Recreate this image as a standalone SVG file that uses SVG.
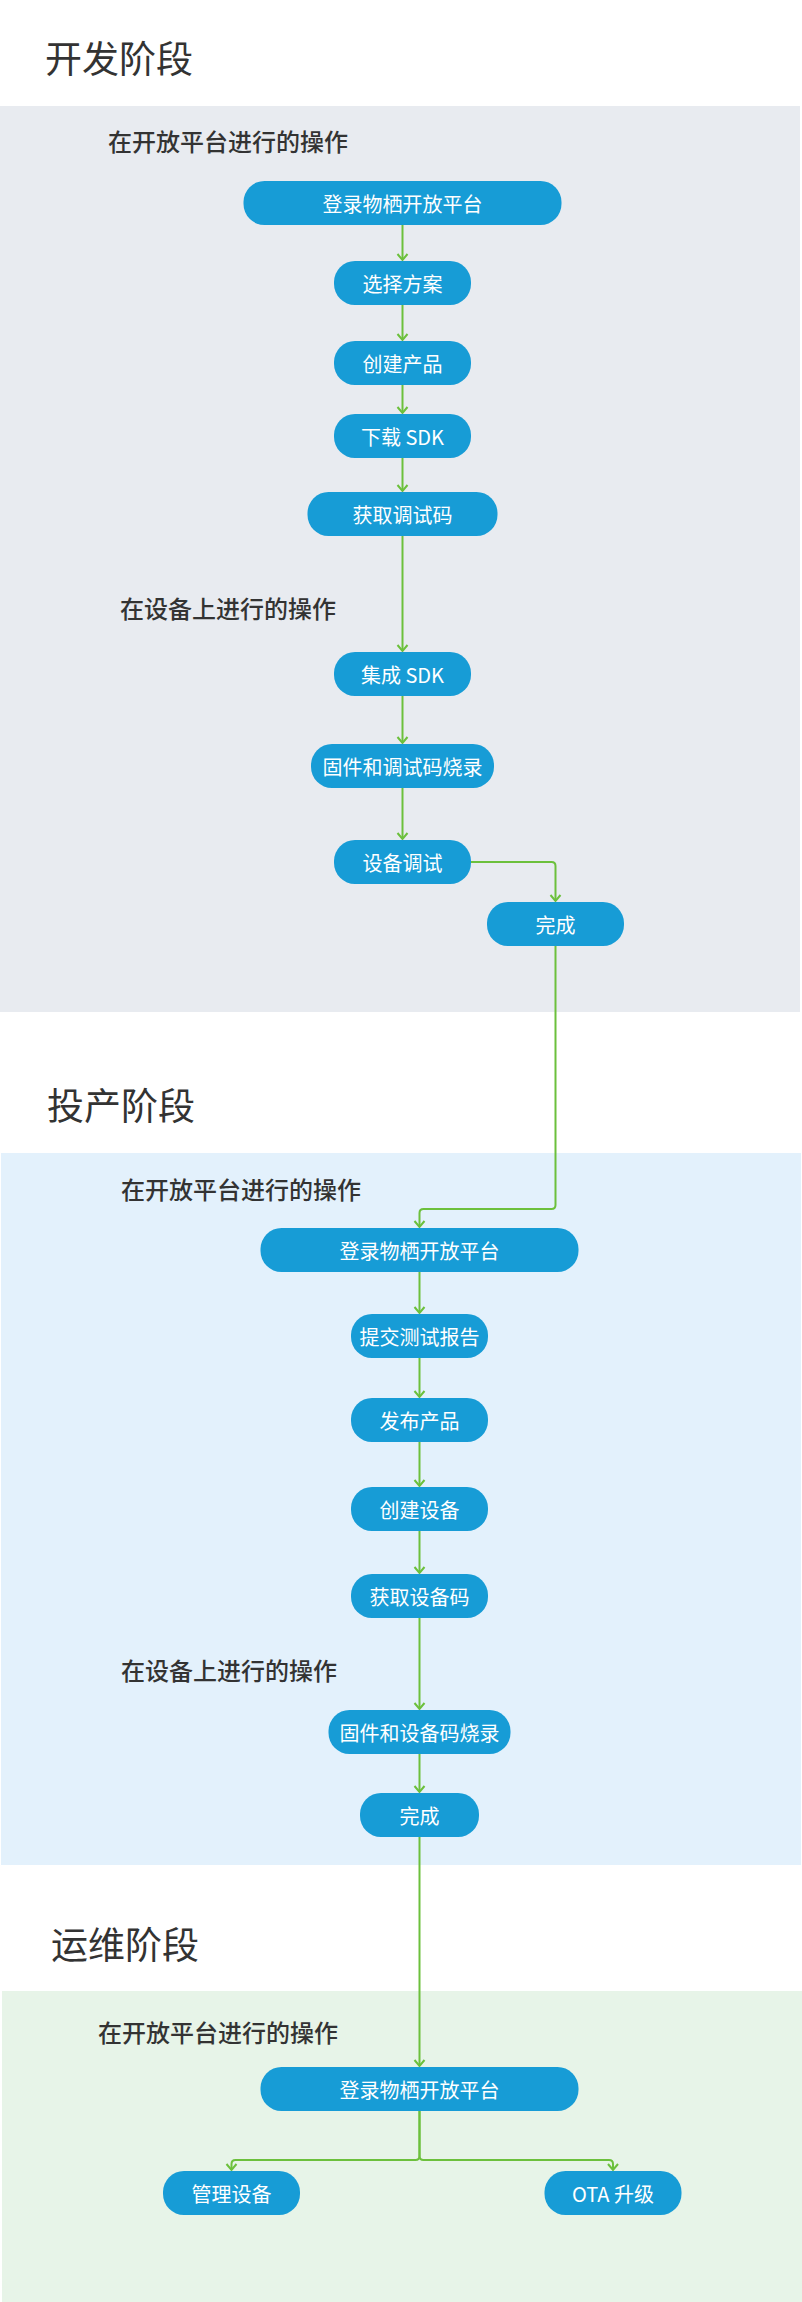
<svg xmlns="http://www.w3.org/2000/svg" width="802" height="2302" viewBox="0 0 802 2302">
<style>
.title{font-family:"Noto Sans CJK SC","Noto Sans",sans-serif;font-size:37px;fill:#333333;dominant-baseline:central}
.sub{font-family:"Noto Sans CJK SC","Noto Sans",sans-serif;font-size:24px;font-weight:500;fill:#333333;dominant-baseline:central}
.node rect{fill:#179CD6}
.node text{font-family:"Noto Sans CJK SC","Noto Sans",sans-serif;font-size:20px;fill:#ffffff;text-anchor:middle;dominant-baseline:central}
.conn path{fill:none;stroke:#6CC03C;stroke-width:2;marker-end:url(#arr)}
</style>
<defs>
<marker id="arr" markerUnits="userSpaceOnUse" markerWidth="14" markerHeight="14" viewBox="0 0 14 14" refX="11" refY="7" orient="auto">
<path d="M5,2 L11,7 L5,12" fill="none" stroke="#6CC03C" stroke-width="2"/>
</marker>
</defs>
<rect width="802" height="2302" fill="#ffffff"/>
<g id="panels">
<rect x="0" y="106" width="800" height="906" fill="#E8EBF0"/>
<rect x="1" y="1153" width="800" height="712" fill="#E3F1FC"/>
<rect x="2" y="1991" width="800" height="311" fill="#E7F4E8"/>
</g>
<g id="labels">
<text class="title" x="45" y="57">开发阶段</text>
<text class="title" x="47" y="1104">投产阶段</text>
<text class="title" x="51" y="1943">运维阶段</text>
<text class="sub" x="108" y="140">在开放平台进行的操作</text>
<text class="sub" x="120" y="607">在设备上进行的操作</text>
<text class="sub" x="121" y="1188">在开放平台进行的操作</text>
<text class="sub" x="121" y="1669">在设备上进行的操作</text>
<text class="sub" x="98" y="2031">在开放平台进行的操作</text>
</g>
<g id="connectors" class="conn">
<path d="M402.5 225 V260"/>
<path d="M402.5 305 V340"/>
<path d="M402.5 385 V413"/>
<path d="M402.5 458 V491"/>
<path d="M402.5 536 V651"/>
<path d="M402.5 696 V743"/>
<path d="M402.5 788 V839"/>
<path d="M471 862 H551.5 Q555.5 862 555.5 866 V901"/>
<path d="M555.5 946 V1205 Q555.5 1209 551.5 1209 H423.5 Q419.5 1209 419.5 1213 V1227"/>
<path d="M419.5 1272 V1313"/>
<path d="M419.5 1358 V1397"/>
<path d="M419.5 1442 V1486"/>
<path d="M419.5 1531 V1573"/>
<path d="M419.5 1618 V1709"/>
<path d="M419.5 1754 V1792"/>
<path d="M419.5 1837 V2066"/>
<path d="M419.5 2111 V2156 Q419.5 2160 415.5 2160 H235.5 Q231.5 2160 231.5 2164 V2170"/>
<path d="M419.5 2111 V2156 Q419.5 2160 423.5 2160 H609 Q613 2160 613 2164 V2170"/>
</g>
<g id="n1" class="node"><rect x="243.5" y="181" width="318" height="44" rx="21"/><text x="402.5" y="203">登录物栖开放平台</text></g>
<g id="n2" class="node"><rect x="334" y="261" width="137" height="44" rx="21"/><text x="402.5" y="283">选择方案</text></g>
<g id="n3" class="node"><rect x="334" y="341" width="137" height="44" rx="21"/><text x="402.5" y="363">创建产品</text></g>
<g id="n4" class="node"><rect x="334" y="414" width="137" height="44" rx="21"/><text x="402.5" y="436">下载 SDK</text></g>
<g id="n5" class="node"><rect x="307.5" y="492" width="190" height="44" rx="21"/><text x="402.5" y="514">获取调试码</text></g>
<g id="n6" class="node"><rect x="334" y="652" width="137" height="44" rx="21"/><text x="402.5" y="674">集成 SDK</text></g>
<g id="n7" class="node"><rect x="311" y="744" width="183" height="44" rx="21"/><text x="402.5" y="766">固件和调试码烧录</text></g>
<g id="n8" class="node"><rect x="334" y="840" width="137" height="44" rx="21"/><text x="402.5" y="862">设备调试</text></g>
<g id="n9" class="node"><rect x="487" y="902" width="137" height="44" rx="21"/><text x="555.5" y="924">完成</text></g>
<g id="n10" class="node"><rect x="260.5" y="1228" width="318" height="44" rx="21"/><text x="419.5" y="1250">登录物栖开放平台</text></g>
<g id="n11" class="node"><rect x="351" y="1314" width="137" height="44" rx="21"/><text x="419.5" y="1336">提交测试报告</text></g>
<g id="n12" class="node"><rect x="351" y="1398" width="137" height="44" rx="21"/><text x="419.5" y="1420">发布产品</text></g>
<g id="n13" class="node"><rect x="351" y="1487" width="137" height="44" rx="21"/><text x="419.5" y="1509">创建设备</text></g>
<g id="n14" class="node"><rect x="351" y="1574" width="137" height="44" rx="21"/><text x="419.5" y="1596">获取设备码</text></g>
<g id="n15" class="node"><rect x="328.5" y="1710" width="182" height="44" rx="21"/><text x="419.5" y="1732">固件和设备码烧录</text></g>
<g id="n16" class="node"><rect x="360" y="1793" width="119" height="44" rx="21"/><text x="419.5" y="1815">完成</text></g>
<g id="n17" class="node"><rect x="260.5" y="2067" width="318" height="44" rx="21"/><text x="419.5" y="2089">登录物栖开放平台</text></g>
<g id="n18" class="node"><rect x="163" y="2171" width="137" height="44" rx="21"/><text x="231.5" y="2193">管理设备</text></g>
<g id="n19" class="node"><rect x="544.5" y="2171" width="137" height="44" rx="21"/><text x="613" y="2193">OTA 升级</text></g>
</svg>
